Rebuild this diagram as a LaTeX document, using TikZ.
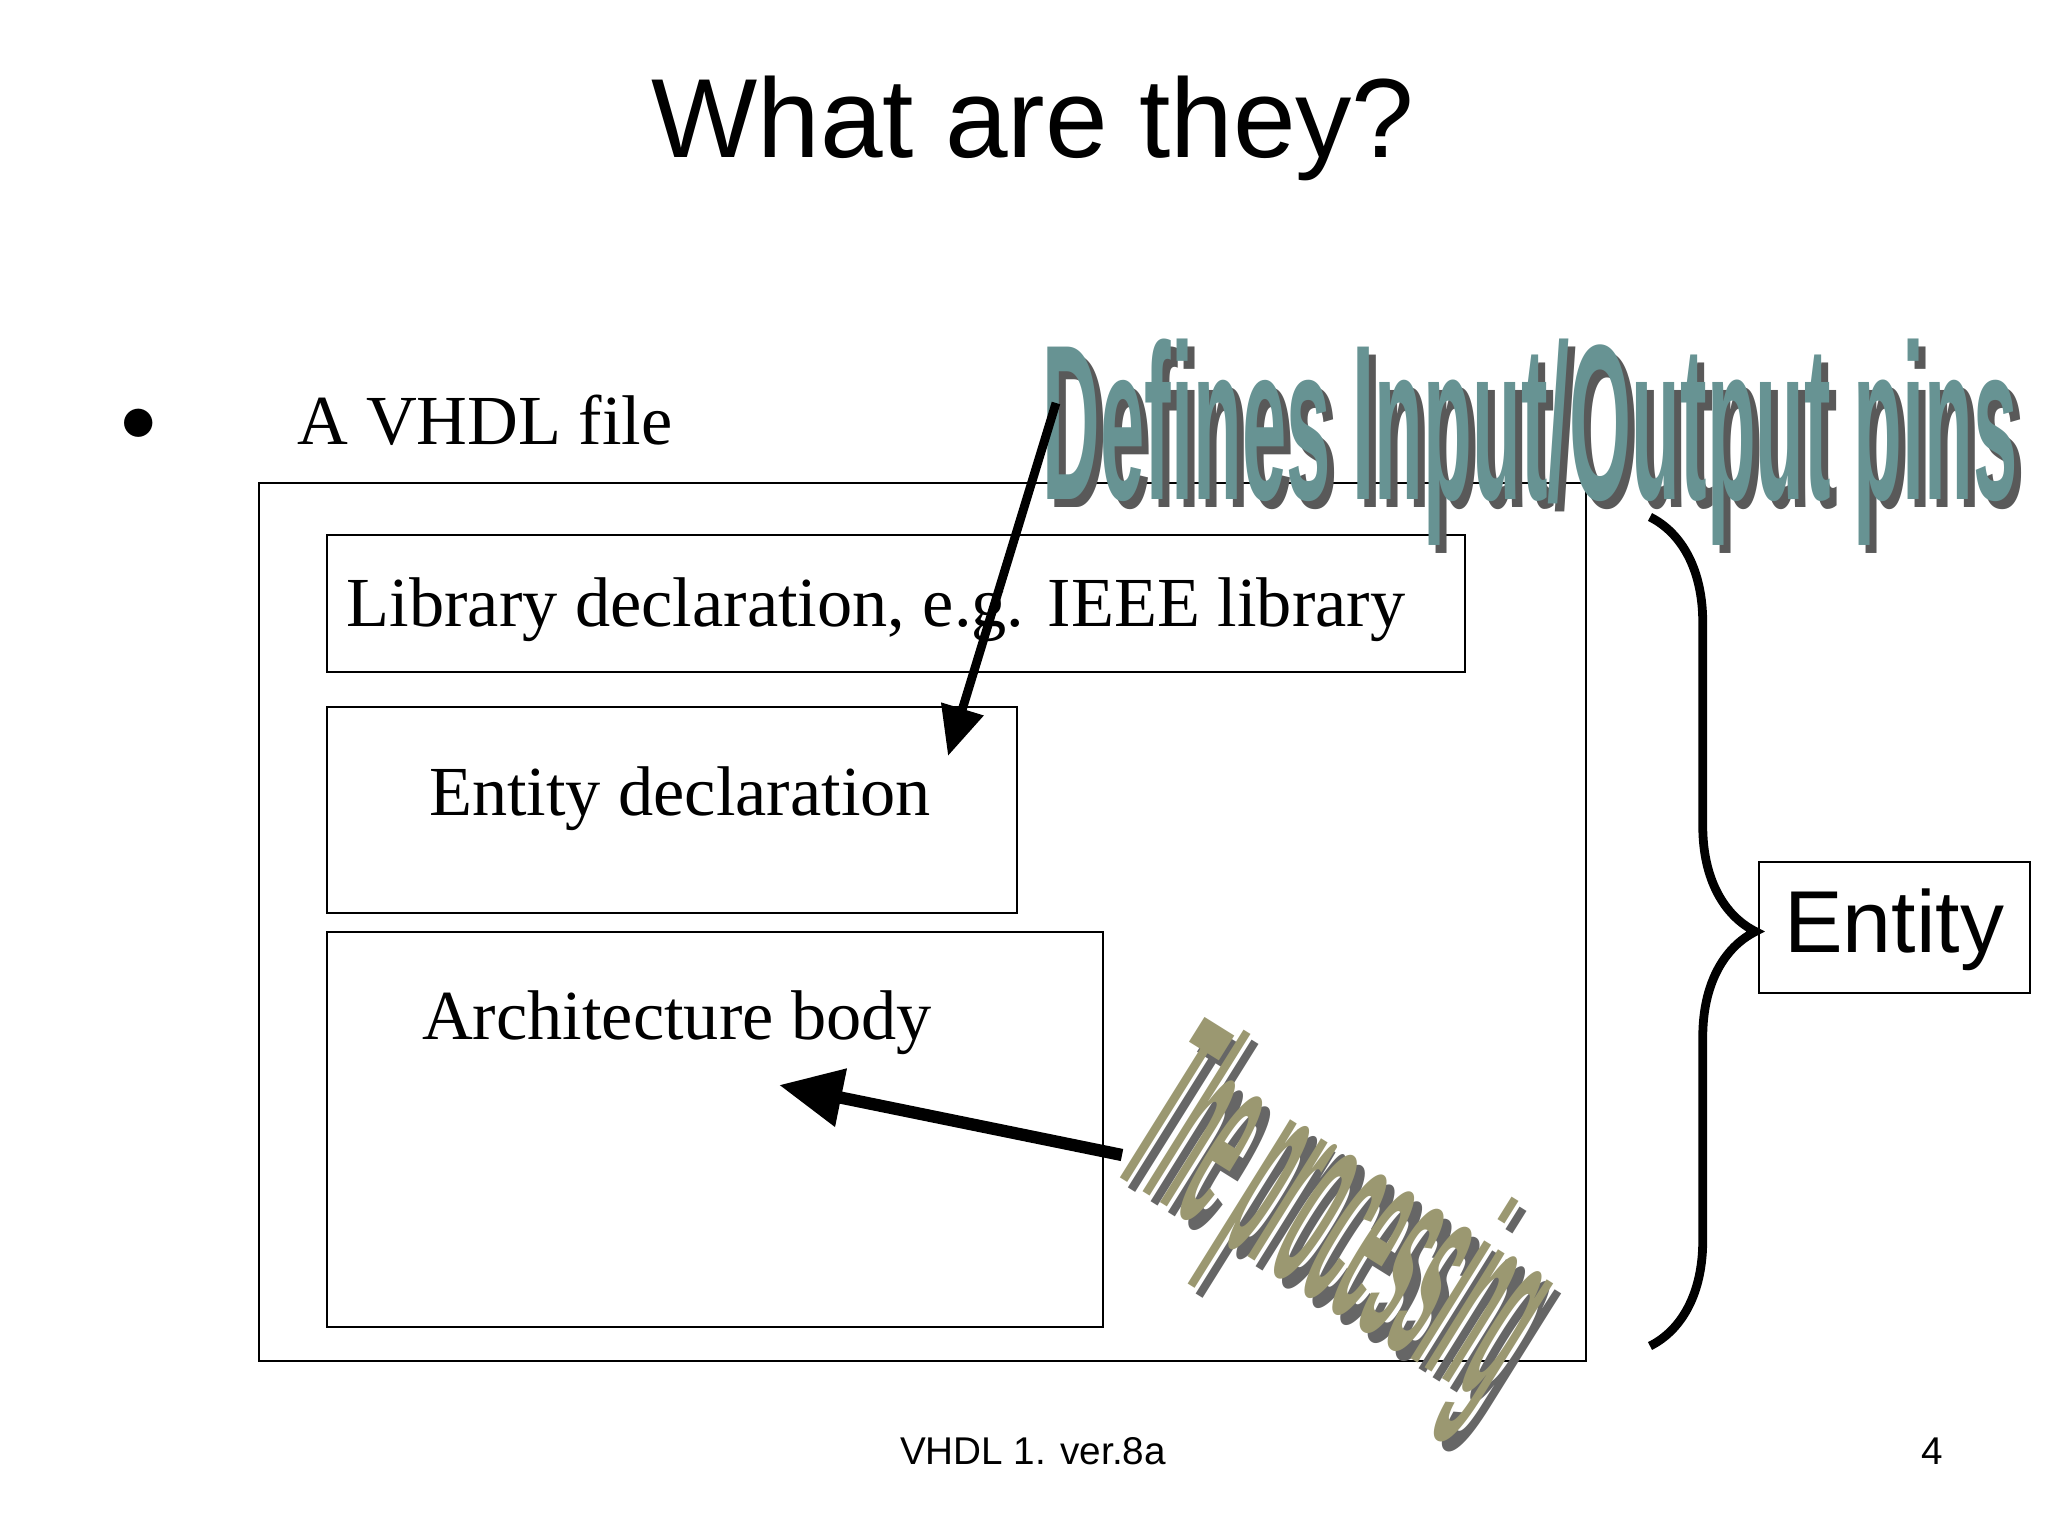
\documentclass[tikz,border=0pt]{standalone}
\usepackage{fontspec}
\setmainfont{Liberation Serif}
\setsansfont{Liberation Sans}
\usetikzlibrary{arrows.meta,decorations.pathreplacing}
\begin{document}
\begin{tikzpicture}[x=0.01cm,y=-0.01cm,
  box/.style={draw,line width=0.8pt},
  serif/.style={font=\fontsize{20}{24}\selectfont},
  bigarrow/.style={line width=3.5pt,-{Triangle[length=18pt,width=16pt]}},
  wordart/.style={font=\sffamily\bfseries, inner sep=0pt}]
\useasboundingbox (0,0) rectangle (2048,1536);
\node (title) at (1033,128) {\sffamily\fontsize{32}{38}\selectfont What are they?};
\node (bullet) at (139,425) {\fontsize{20}{24}\selectfont$\bullet$};
\node[serif,anchor=west,inner sep=0pt] (vhdl) at (297,420) {A VHDL file};
\draw[box] (259,483) rectangle (1586,1361);
\draw[box] (327,535) rectangle (1465,672);
\node[serif,anchor=west,inner sep=0pt] (libt) at (346,610) {Library declaration, e.g. IEEE library};
\draw[box] (327,707) rectangle (1017,913);
\node[serif] (ent) at (680,799) {Entity declaration};
\draw[box] (327,932) rectangle (1103,1327);
\node[serif] (arch) at (677,1023) {Architecture body};
\draw[line width=2.5pt,decorate,decoration={brace,amplitude=30pt}] (1650,517) -- (1650,1346);
\draw[box] (1759,862) rectangle (2030,993);
\node (entity) at (1894,930) {\sffamily\fontsize{25}{30}\selectfont Entity};
\node (foot) at (1033,1451) {\sffamily\fontsize{11}{13}\selectfont VHDL 1. ver.8a};
\node (pg) at (1932,1451) {\sffamily\fontsize{11}{13}\selectfont 4};
% WordArt 1
\node[wordart,text=black!65] (defs) at (1537,450) {\scalebox{0.63}[1.75]{\fontsize{36}{40}\selectfont Defines Input/Output pins}};
\node[wordart,text=teal!40!gray!85] (def) at (1530,442) {\scalebox{0.63}[1.75]{\fontsize{36}{40}\selectfont Defines Input/Output pins}};
\coordinate (a1s) at (1056,403);
\coordinate (a1e) at (948,756);
\draw[line width=2.5pt,-{Triangle[length=14pt,width=12pt]}] (a1s) -- (a1e);
% WordArt 2
\node[wordart,text=black!60,rotate=-32] (procs) at (1340,1240) {\scalebox{0.5}[2.2]{\fontsize{34}{40}\selectfont The processing}};
\node[wordart,text=olive!30!gray!90,rotate=-32] (proc) at (1332,1230) {\scalebox{0.5}[2.2]{\fontsize{34}{40}\selectfont The processing}};
\coordinate (a2s) at (1122,1155);
\coordinate (a2e) at (779,1085);
\draw[bigarrow] (a2s) -- (a2e);
\end{tikzpicture}
\end{document}
